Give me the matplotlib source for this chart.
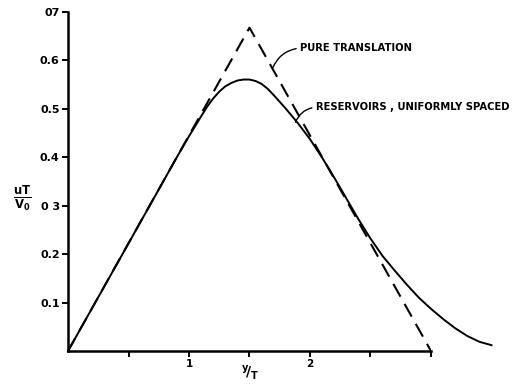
import numpy as np
import matplotlib
matplotlib.use("Agg")
import matplotlib.pyplot as plt

# pure translation: triangular response, peak at y/T = 1.5
trans_x = [0.0, 1.5, 3.0]
trans_y = [0.0, 0.667, 0.0]

# reservoirs, uniformly spaced
res_x = [0.0, 0.5, 0.9, 1.0, 1.1, 1.15, 1.2, 1.25, 1.3, 1.35, 1.4, 1.45, 1.5,
         1.55, 1.6, 1.65, 1.7, 1.75, 1.8, 1.9, 2.0, 2.1, 2.2, 2.3, 2.4, 2.5,
         2.6, 2.7, 2.8, 2.9, 3.0, 3.1, 3.2, 3.3, 3.4, 3.5]
res_y = [0.0, 0.222, 0.400, 0.443, 0.484, 0.504, 0.521, 0.535, 0.546, 0.553,
         0.558, 0.560, 0.560, 0.557, 0.551, 0.541, 0.528, 0.514, 0.500, 0.470,
         0.437, 0.399, 0.358, 0.315, 0.272, 0.232, 0.196, 0.166, 0.137, 0.110,
         0.087, 0.066, 0.047, 0.031, 0.019, 0.012]

xticks = [0.5, 1.0, 1.5, 2.0, 2.5, 3.0]
xticklabels = ["", "1", "", "2", "", ""]
yticks = [0.1, 0.2, 0.3, 0.4, 0.5, 0.6, 0.7]
yticklabels = ["0.1", "0.2", "0 3", "0.4", "0.5", "0.6", "07"]

plt.rcParams['font.family'] = ['DejaVu Sans']
plt.rcParams['font.weight'] = 'bold'

fig = plt.figure(figsize=(5.2, 3.86), dpi=100)
ax = fig.add_axes([0.1308, 0.0907, 0.698, 0.879])

ax.plot(trans_x, trans_y, color='black', lw=1.5, dashes=(7, 4))
ax.plot(res_x, res_y, color='black', lw=1.4, clip_on=False)

ax.set_xlim(0, 3)
ax.set_ylim(0, 0.7)
ax.set_xticks(xticks)
ax.set_xticklabels(xticklabels, fontsize=7.5, fontweight='bold')
ax.set_yticks(yticks)
ax.set_yticklabels(yticklabels, fontsize=8, fontweight='bold')
ax.tick_params(direction='out', length=4, width=1.4, pad=2)

for side in ['top', 'right']:
    ax.spines[side].set_visible(False)
for side in ['left', 'bottom']:
    ax.spines[side].set_linewidth(1.8)

ax.annotate("PURE TRANSLATION", xy=(1.69, 0.583), xytext=(1.92, 0.625),
            fontsize=7.2, fontweight='bold', ha='left', va='center',
            arrowprops=dict(arrowstyle='-', color='black', lw=1.0,
                            relpos=(0, 0.5), shrinkA=1, shrinkB=0,
                            connectionstyle='arc3,rad=0.3'))
ax.annotate("RESERVOIRS , UNIFORMLY SPACED", xy=(1.88, 0.472), xytext=(2.05, 0.503),
            fontsize=7.2, fontweight='bold', ha='left', va='center',
            arrowprops=dict(arrowstyle='-', color='black', lw=1.0,
                            relpos=(0, 0.5), shrinkA=1, shrinkB=0,
                            connectionstyle='arc3,rad=0.3'))

fig.text(0.043, 0.487, r"$\mathbf{\frac{uT}{V_0}}$", fontsize=12,
         ha='center', va='center')
fig.text(0.482, 0.035, r"$\mathbf{^{y}\!/_{T}}$", fontsize=10,
         ha='center', va='center')

fig.savefig("out.png", dpi=100)
